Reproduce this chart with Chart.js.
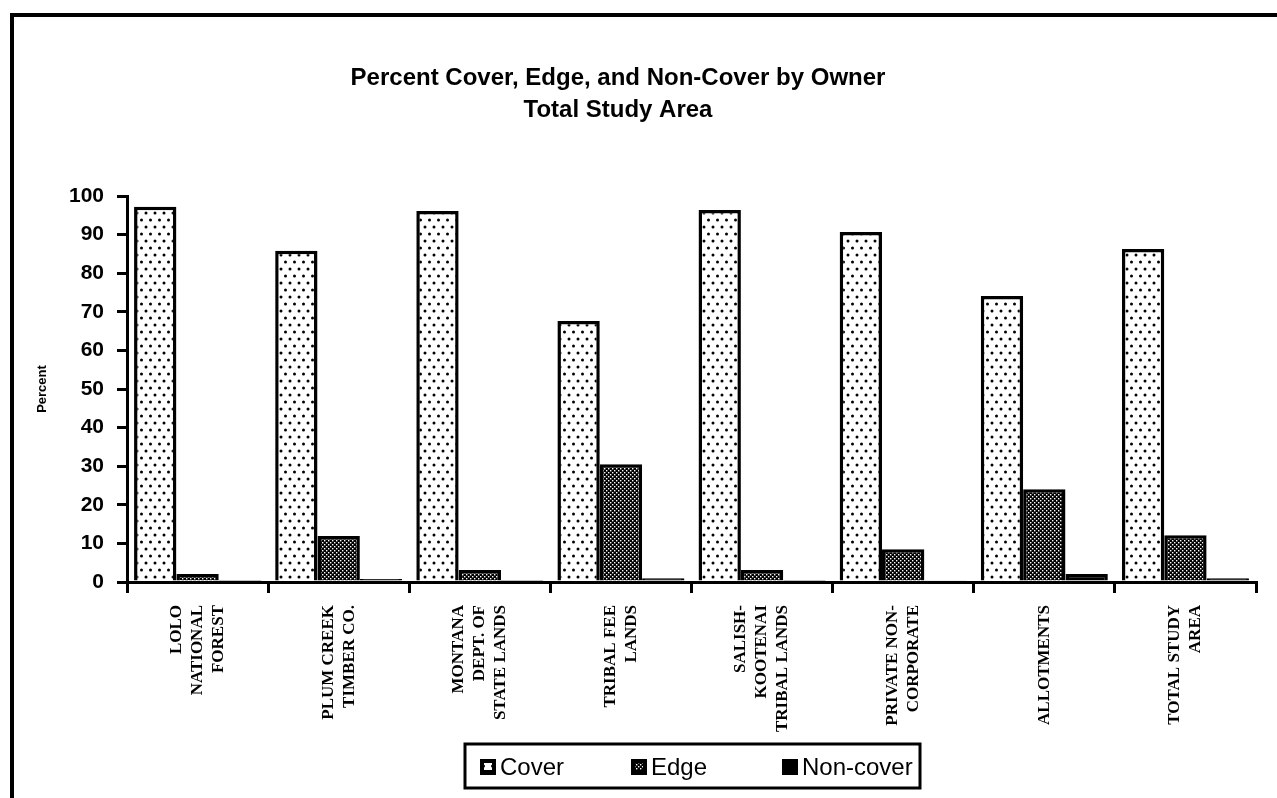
<!DOCTYPE html>
<html>
<head>
<meta charset="utf-8">
<script src="https://cdn.jsdelivr.net/npm/chart.js@4.4.1/dist/chart.umd.min.js"></script>
<style>
  body { margin: 0; background: #fff; }
  #chart { display: block; }
</style>
</head>
<body>
<canvas id="chart" width="1277" height="798"></canvas>
<script>
// owners along the x axis (each entry is the stacked lines of the rotated label)
const owners = [
    ["LOLO", "NATIONAL", "FOREST"],
    ["PLUM CREEK", "TIMBER CO."],
    ["MONTANA", "DEPT. OF", "STATE LANDS"],
    ["TRIBAL FEE", "LANDS"],
    ["SALISH-", "KOOTENAI", "TRIBAL LANDS"],
    ["PRIVATE NON-", "CORPORATE"],
    ["ALLOTMENTS"],
    ["TOTAL STUDY", "AREA"]
];
const coverPct = [97.2, 85.8, 96.1, 67.6, 96.4, 90.7, 74.1, 86.3];
const edgePct = [2.1, 11.9, 3.1, 30.5, 3.1, 8.5, 24.0, 12.1];
const nonCoverPct = [0.2, 0.8, 0.2, 1.0, 0.2, 0.3, 2.1, 1.0];
const yTicks = [0, 10, 20, 30, 40, 50, 60, 70, 80, 90, 100];
const titleLines = ["Percent Cover, Edge, and Non-Cover by Owner", "Total Study Area"];

// dotted fill for "Cover"
function dotPattern() {
    let c = document.createElement('canvas');
    c.width = 9; c.height = 14;
    let g = c.getContext('2d');
    g.fillStyle = '#fff';
    g.fillRect(0, 0, 9, 14);
    g.fillStyle = '#000';
    g.beginPath(); g.arc(2, 3, 1.5, 0, Math.PI * 2); g.fill();
    g.beginPath(); g.arc(6.5, 10, 1.5, 0, Math.PI * 2); g.fill();
    return g.createPattern(c, 'repeat');
}

// dark stipple for "Edge"
function stipplePattern() {
    let c = document.createElement('canvas');
    c.width = 4; c.height = 4;
    let g = c.getContext('2d');
    g.fillStyle = '#000';
    g.fillRect(0, 0, 4, 4);
    g.fillStyle = '#fff';
    g.fillRect(0, 0, 1.4, 1.4);
    g.fillRect(2, 2, 1.4, 1.4);
    return g.createPattern(c, 'repeat');
}

const fills = [dotPattern(), stipplePattern(), '#000'];

const extras = {
    id: 'extras',
    afterDraw(chart) {
        const ctx = chart.ctx;
        const xs = chart.scales.x;
        ctx.save();

        // outer frame (top and left edges)
        ctx.strokeStyle = '#000';
        ctx.lineWidth = 4;
        ctx.beginPath();
        ctx.moveTo(12, 800);
        ctx.lineTo(12, 15);
        ctx.lineTo(1277, 15);
        ctx.stroke();

        // title
        ctx.fillStyle = '#000';
        ctx.font = 'bold 24px "Liberation Sans", Arial, sans-serif';
        ctx.textAlign = 'center';
        ctx.textBaseline = 'middle';
        ctx.fillText(titleLines[0], 618, 78);
        ctx.fillText(titleLines[1], 618, 110);

        // rotated category labels
        ctx.font = 'bold 17px "Liberation Serif", "Times New Roman", serif';
        owners.forEach((lines, i) => {
            const px = xs.getPixelForValue(i);
            ctx.save();
            ctx.translate(px, 605);
            ctx.rotate(-Math.PI / 2);
            ctx.textAlign = 'right';
            lines.forEach((ln, j) => {
                ctx.fillText(ln, 0, (j - (lines.length - 1) / 2) * 21);
            });
            ctx.restore();
        });

        // legend box
        ctx.lineWidth = 3;
        ctx.strokeRect(465, 744, 455, 44);
        ctx.font = '24px "Liberation Sans", Arial, sans-serif';
        ctx.textAlign = 'left';
        chart.data.datasets.forEach((ds, i) => {
            const lx = 480 + i * 151;
            ctx.fillStyle = '#000';
            ctx.fillRect(lx, 759, 16, 16);
            if (i < 2) {
                ctx.fillStyle = ds.backgroundColor;
                ctx.fillRect(lx + 4, 763, 8, 7);
            }
            ctx.fillStyle = '#000';
            ctx.fillText(ds.label, lx + 20, 768);
        });
        ctx.restore();
    }
};

new Chart(document.getElementById('chart'), {
    type: 'bar',
    data: {
        labels: owners.map(l => l.join(' ')),
        datasets: [
            { label: 'Cover', data: coverPct, backgroundColor: fills[0], borderColor: '#000', borderWidth: 3.5 },
            { label: 'Edge', data: edgePct, backgroundColor: fills[1], borderColor: '#000', borderWidth: 3.5 },
            { label: 'Non-cover', data: nonCoverPct, backgroundColor: fills[2], borderColor: '#000', borderWidth: 3.5 }
        ]
    },
    options: {
        responsive: false,
        devicePixelRatio: 1,
        animation: false,
        layout: { padding: { top: 196, right: 21, left: 0, bottom: 0 } },
        datasets: { bar: { categoryPercentage: 0.9, barPercentage: 1.0 } },
        plugins: {
            legend: { display: false },
            title: { display: false },
            tooltip: { enabled: false }
        },
        scales: {
            x: {
                ticks: { display: false },
                grid: { offset: true, drawOnChartArea: false, tickLength: 11, color: '#000', lineWidth: 3 },
                border: { color: '#000', width: 3 },
                afterFit: (scale) => { scale.height = 216; }
            },
            y: {
                min: 0,
                max: 100,
                afterBuildTicks: (scale) => { scale.ticks = yTicks.map(v => ({ value: v })); },
                ticks: {
                    color: '#000',
                    padding: 13,
                    font: { family: '"Liberation Sans", Arial, sans-serif', size: 21, weight: 'bold' }
                },
                grid: { drawOnChartArea: false, tickLength: 10, color: '#000', lineWidth: 3 },
                border: { color: '#000', width: 3 },
                title: {
                    display: true,
                    text: 'Percent',
                    color: '#000',
                    padding: { top: 35, bottom: 0 },
                    font: { family: '"Liberation Sans", Arial, sans-serif', size: 13, weight: 'bold' }
                },
                afterFit: (scale) => { scale.width = 127; }
            }
        }
    },
    plugins: [extras]
});
</script>
</body>
</html>
